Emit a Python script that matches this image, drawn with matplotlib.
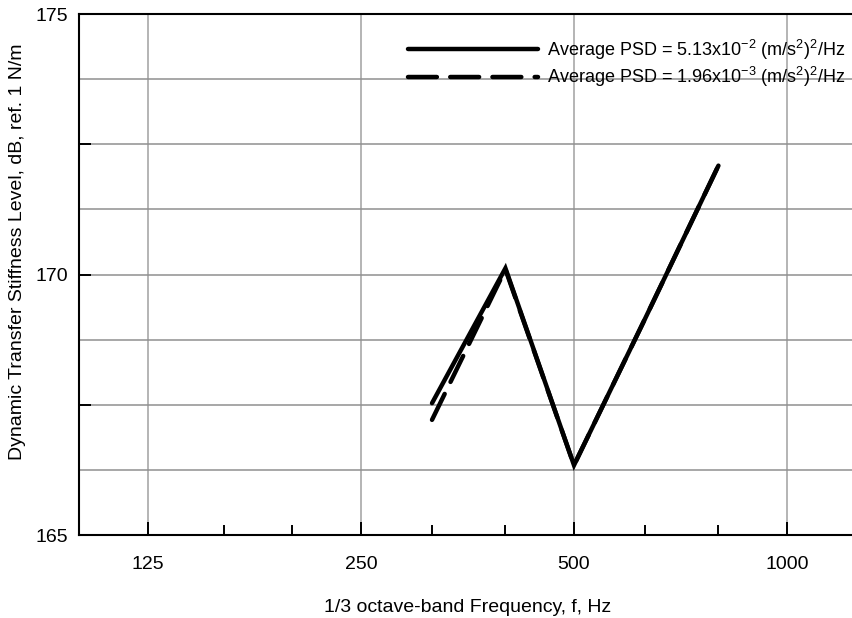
import numpy as np
import matplotlib.pyplot as plt
from matplotlib.ticker import NullFormatter

plt.rcParams['font.family'] = ['Liberation Sans', 'DejaVu Sans']
plt.rcParams['mathtext.fontset'] = 'custom'
plt.rcParams['mathtext.rm'] = 'Liberation Sans'
plt.rcParams['mathtext.it'] = 'Liberation Sans:italic'

# 1/3 octave-band centre frequencies, Hz
freq = [315, 400, 500, 630, 800]
# dynamic transfer stiffness level, dB ref. 1 N/m
level_high = [167.53, 170.12, 166.34, 169.15, 172.09]
level_low = [167.21, 170.10, 166.34, 169.15, 172.09]

label_high = r'Average PSD = 5.13x10$^{-2}$ (m/s$^{2}$)$^{2}$/Hz'
label_low = r'Average PSD = 1.96x10$^{-3}$ (m/s$^{2}$)$^{2}$/Hz'

x_major = [125, 250, 500, 1000]
x_minor = [160, 200, 315, 400, 630, 800]
y_major = [165, 167.5, 170, 172.5, 175]
y_labels = ['165', '', '170', '', '175']

fig = plt.figure(figsize=(8.52, 6.18), dpi=100)
ax = fig.add_axes([0.0932, 0.1343, 0.911, 0.843])

ax.plot(freq, level_low, color='black', lw=3.2, ls=(0, (6.5, 3)),
        dash_capstyle='round', label=label_low, zorder=3)
ax.plot(freq, level_high, color='black', lw=3.2, solid_capstyle='round',
        solid_joinstyle='miter', label=label_high, zorder=4)

ax.set_xscale('log')
ax.set_xlim(100, 1250)
ax.set_ylim(165, 175)

ax.set_xticks(x_major)
ax.set_xticklabels([str(v) for v in x_major])
ax.set_xticks(x_minor, minor=True)
ax.xaxis.set_minor_formatter(NullFormatter())

ax.set_yticks(y_major)
ax.set_yticklabels(y_labels)
ax.set_yticks(np.arange(165, 175.01, 1.25), minor=True)

ax.tick_params(axis='x', which='major', direction='in', length=9.5, width=1.4,
               pad=15, labelsize=14)
ax.tick_params(axis='x', which='minor', direction='in', length=7.2, width=1.4)
ax.tick_params(axis='y', which='major', direction='in', length=8.5, width=1.4,
               pad=8, labelsize=14)
ax.tick_params(axis='y', which='minor', length=0)

ax.grid(axis='x', which='major', color='#a0a0a0', lw=1.1)
ax.grid(axis='y', which='both', color='#909090', lw=1.1)
ax.set_axisbelow(True)

for side in ['left', 'bottom', 'top']:
    ax.spines[side].set_linewidth(1.5)
ax.spines['right'].set_visible(False)

ax.set_xlabel('1/3 octave-band Frequency, f, Hz', fontsize=14, labelpad=19)
ax.set_ylabel('Dynamic Transfer Stiffness Level, dB, ref. 1 N/m', fontsize=14)
ax.yaxis.set_label_coords(-0.069, 0.543)

handles, labels = ax.get_legend_handles_labels()
ax.legend(handles[::-1], labels[::-1], loc='upper right',
          bbox_to_anchor=(1.007, 0.986), frameon=False, fontsize=13,
          handlelength=7.2, handletextpad=0.45, labelspacing=0.2)

fig.savefig('out.png', dpi=100)
